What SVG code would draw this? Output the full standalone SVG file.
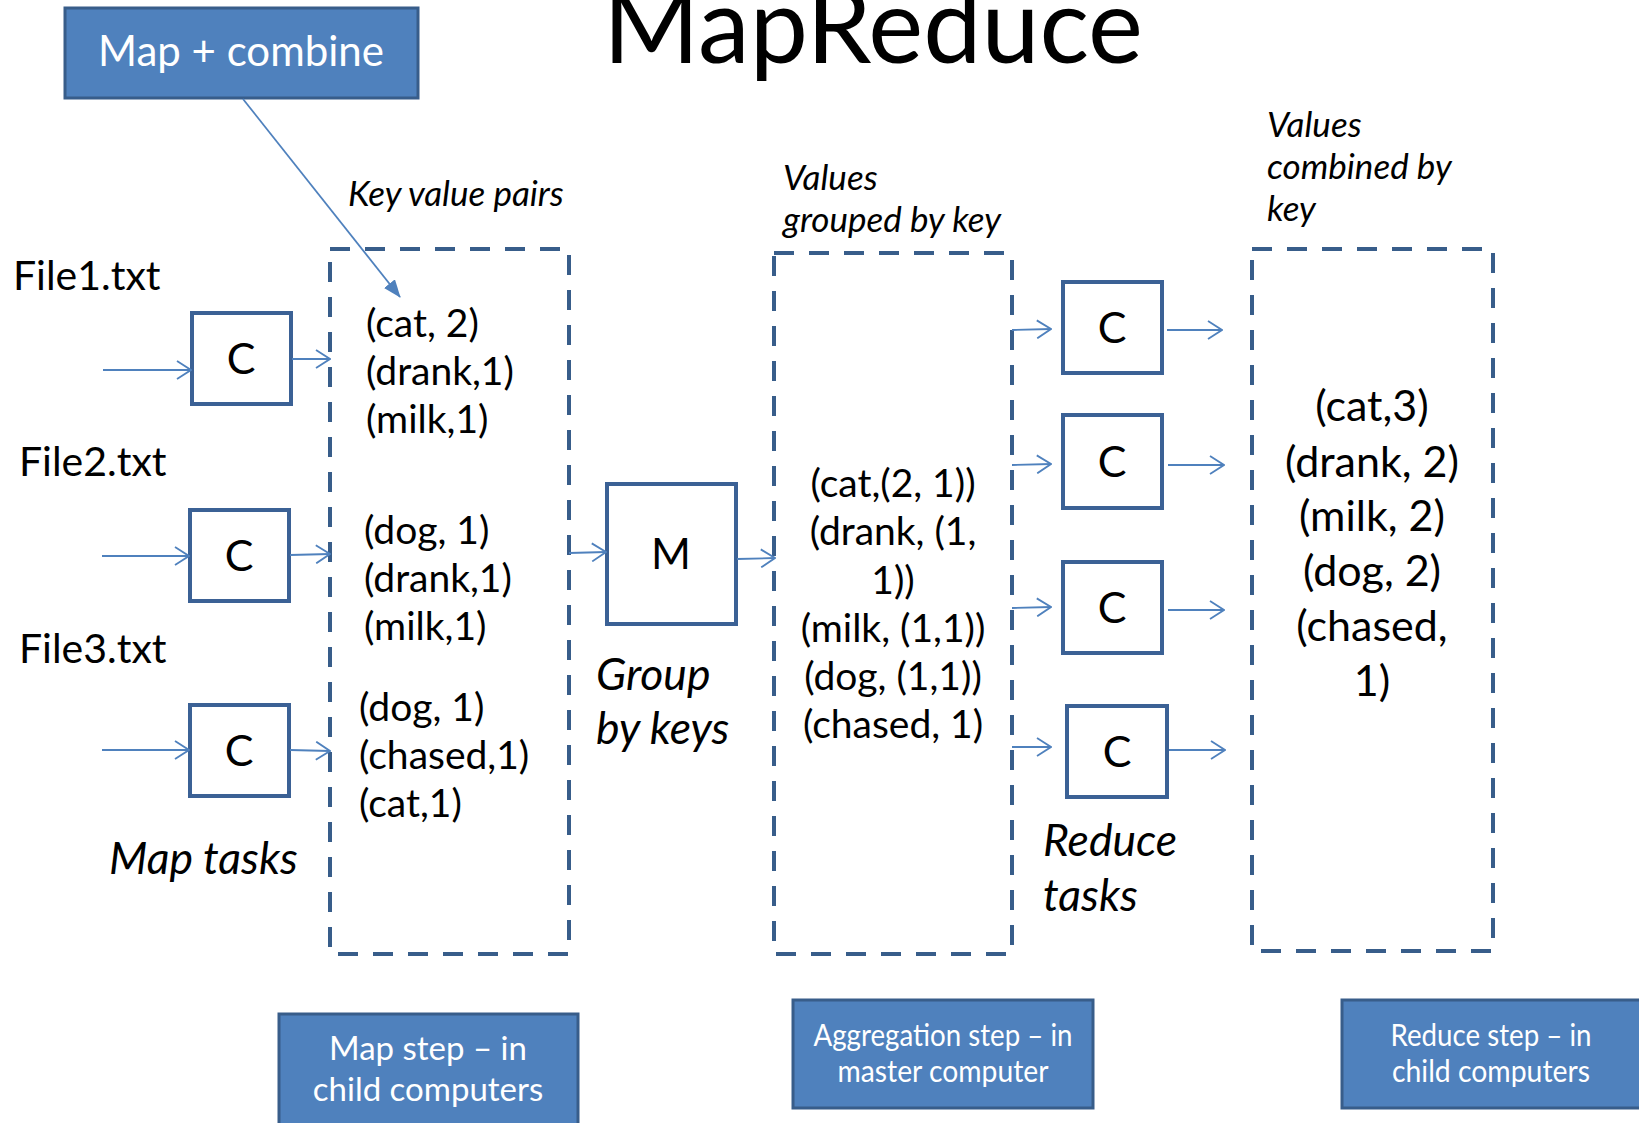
<svg xmlns="http://www.w3.org/2000/svg" width="1639" height="1123" viewBox="0 0 1639 1123">
  <defs>
    <marker id="open" markerUnits="userSpaceOnUse" viewBox="0 0 16 20" markerWidth="16" markerHeight="20" refX="15" refY="10" orient="auto">
      <path d="M1,1 L15,10 L1,19" fill="none" stroke="#4F81BD" stroke-width="1.8"/>
    </marker>
    <marker id="solid" markerUnits="userSpaceOnUse" viewBox="0 0 18 14" markerWidth="18" markerHeight="14" refX="17" refY="7" orient="auto">
      <path d="M0,0 L18,7 L0,14 Z" fill="#4F81BD"/>
    </marker>
  </defs>
  <style>
    text { font-family: Lato, "Open Sans", "Liberation Sans", sans-serif; fill: #000; }
    .title { font-size: 104px; }
    .file { font-size: 41px; }
    .pair { font-size: 39px; }
    .big { font-size: 43px; }
    .note { font-size: 35px; font-style: italic; }
    .cap { font-size: 44.5px; font-style: italic; }
    .letter { font-size: 43px; text-anchor: middle; }
    .mid { text-anchor: middle; }
    .task { fill: #fff; stroke: #3B6195; stroke-width: 4; }
    .group { fill: none; stroke: #385D8A; stroke-width: 4; stroke-dasharray: 20 15; }
    .banner { fill: #4F81BD; stroke: #385D8A; stroke-width: 3; }
    .banner-text { fill: #fff; text-anchor: middle; }
    .flow { stroke: #4F81BD; stroke-width: 1.8; fill: none; marker-end: url(#open); }
  </style>

  <rect width="1639" height="1123" fill="#fff"/>

  <text class="title" x="603" y="63">MapReduce</text>

  <g id="map-combine">
    <rect class="banner" x="65" y="8" width="353" height="90"/>
    <text class="banner-text" x="241" y="66" style="font-size:42px">Map + combine</text>
  </g>

  <!-- input file labels -->
  <g id="file1"><text class="file" x="13" y="290">File1.txt</text></g>
  <g id="file2"><text class="file" x="19" y="476">File2.txt</text></g>
  <g id="file3"><text class="file" x="19" y="663">File3.txt</text></g>

  <!-- map-side combiner tasks -->
  <g id="map-c1">
    <rect class="task" x="192" y="313" width="99" height="91"/>
    <text class="letter" x="241" y="374">C</text>
  </g>
  <g id="map-c2">
    <rect class="task" x="190" y="510" width="99" height="91"/>
    <text class="letter" x="239" y="571">C</text>
  </g>
  <g id="map-c3">
    <rect class="task" x="190" y="705" width="99" height="91"/>
    <text class="letter" x="239" y="766">C</text>
  </g>
  <g id="map-tasks-label"><text class="cap" x="109" y="874">Map tasks</text></g>

  <!-- key/value pairs emitted by map -->
  <g id="kv-pairs">
    <rect class="group" x="330" y="249" width="239" height="705"/>
    <text class="note" x="348" y="206">Key value pairs</text>
    <text class="pair" x="366" y="337">(cat, 2)</text>
    <text class="pair" x="366" y="385">(drank,1)</text>
    <text class="pair" x="366" y="433">(milk,1)</text>
    <text class="pair" x="364" y="544">(dog, 1)</text>
    <text class="pair" x="364" y="592">(drank,1)</text>
    <text class="pair" x="364" y="640">(milk,1)</text>
    <text class="pair" x="359" y="721">(dog, 1)</text>
    <text class="pair" x="359" y="769">(chased,1)</text>
    <text class="pair" x="359" y="817">(cat,1)</text>
  </g>

  <!-- grouping step on the master -->
  <g id="group-m">
    <rect class="task" x="607" y="484" width="129" height="140"/>
    <text class="letter" x="671" y="569">M</text>
    <text class="cap" x="596" y="690">Group</text>
    <text class="cap" x="596" y="744">by keys</text>
  </g>

  <g id="grouped">
    <rect class="group" x="774" y="253" width="238" height="701"/>
    <text class="note" x="783" y="190">Values</text>
    <text class="note" x="783" y="232">grouped by key</text>
    <text class="pair mid" x="893" y="497">(cat,(2, 1))</text>
    <text class="pair mid" x="893" y="545">(drank, (1,</text>
    <text class="pair mid" x="893" y="594">1))</text>
    <text class="pair mid" x="893" y="642">(milk, (1,1))</text>
    <text class="pair mid" x="893" y="690">(dog, (1,1))</text>
    <text class="pair mid" x="893" y="738">(chased, 1)</text>
  </g>

  <!-- reduce-side tasks -->
  <g id="reduce-c1">
    <rect class="task" x="1063" y="282" width="99" height="91"/>
    <text class="letter" x="1112" y="343">C</text>
  </g>
  <g id="reduce-c2">
    <rect class="task" x="1063" y="415" width="99" height="93"/>
    <text class="letter" x="1112" y="477">C</text>
  </g>
  <g id="reduce-c3">
    <rect class="task" x="1063" y="562" width="99" height="91"/>
    <text class="letter" x="1112" y="623">C</text>
  </g>
  <g id="reduce-c4">
    <rect class="task" x="1067" y="706" width="100" height="91"/>
    <text class="letter" x="1117" y="767">C</text>
  </g>
  <g id="reduce-tasks-label">
    <text class="cap" x="1043" y="856">Reduce</text>
    <text class="cap" x="1043" y="911">tasks</text>
  </g>

  <g id="combined">
    <rect class="group" x="1252" y="249" width="241" height="702"/>
    <text class="note" x="1267" y="137">Values</text>
    <text class="note" x="1267" y="179">combined by</text>
    <text class="note" x="1267" y="221">key</text>
    <text class="big mid" x="1372" y="421">(cat,3)</text>
    <text class="big mid" x="1372" y="477">(drank, 2)</text>
    <text class="big mid" x="1372" y="531">(milk, 2)</text>
    <text class="big mid" x="1372" y="586">(dog, 2)</text>
    <text class="big mid" x="1372" y="641">(chased,</text>
    <text class="big mid" x="1372" y="696">1)</text>
  </g>

  <!-- stage banners -->
  <g id="map-step">
    <rect class="banner" x="279" y="1014" width="299" height="120"/>
    <text class="banner-text" x="428" y="1060" style="font-size:33px">Map step – in</text>
    <text class="banner-text" x="428" y="1101" style="font-size:33px">child computers</text>
  </g>
  <g id="aggregation-step">
    <rect class="banner" x="793" y="1000" width="300" height="108"/>
    <text class="banner-text" x="943" y="1046" style="font-size:31px" textLength="259" lengthAdjust="spacingAndGlyphs">Aggregation step – in</text>
    <text class="banner-text" x="943" y="1082" style="font-size:31px" textLength="211" lengthAdjust="spacingAndGlyphs">master computer</text>
  </g>
  <g id="reduce-step">
    <rect class="banner" x="1342" y="1000" width="310" height="108"/>
    <text class="banner-text" x="1491" y="1046" style="font-size:31px" textLength="201" lengthAdjust="spacingAndGlyphs">Reduce step – in</text>
    <text class="banner-text" x="1491" y="1082" style="font-size:31px" textLength="198" lengthAdjust="spacingAndGlyphs">child computers</text>
  </g>

  <g id="connectors">
    <line x1="243" y1="99" x2="400" y2="297" stroke="#4F81BD" stroke-width="1.8" marker-end="url(#solid)"/>
    <line class="flow" x1="103" y1="370" x2="191" y2="370"/>
    <line class="flow" x1="102" y1="556" x2="189" y2="556"/>
    <line class="flow" x1="102" y1="750" x2="189" y2="750"/>
    <line class="flow" x1="292" y1="359" x2="330" y2="359"/>
    <line class="flow" x1="290" y1="555" x2="330" y2="554"/>
    <line class="flow" x1="290" y1="750" x2="330" y2="751"/>
    <line class="flow" x1="569" y1="553" x2="606" y2="552"/>
    <line class="flow" x1="737" y1="559" x2="775" y2="558"/>
    <line class="flow" x1="1012" y1="330" x2="1051" y2="329"/>
    <line class="flow" x1="1012" y1="465" x2="1051" y2="464"/>
    <line class="flow" x1="1012" y1="608" x2="1051" y2="607"/>
    <line class="flow" x1="1012" y1="747" x2="1051" y2="747"/>
    <line class="flow" x1="1167" y1="330" x2="1222" y2="330"/>
    <line class="flow" x1="1168" y1="465" x2="1224" y2="465"/>
    <line class="flow" x1="1168" y1="610" x2="1224" y2="610"/>
    <line class="flow" x1="1169" y1="750" x2="1225" y2="750"/>
  </g>
</svg>
